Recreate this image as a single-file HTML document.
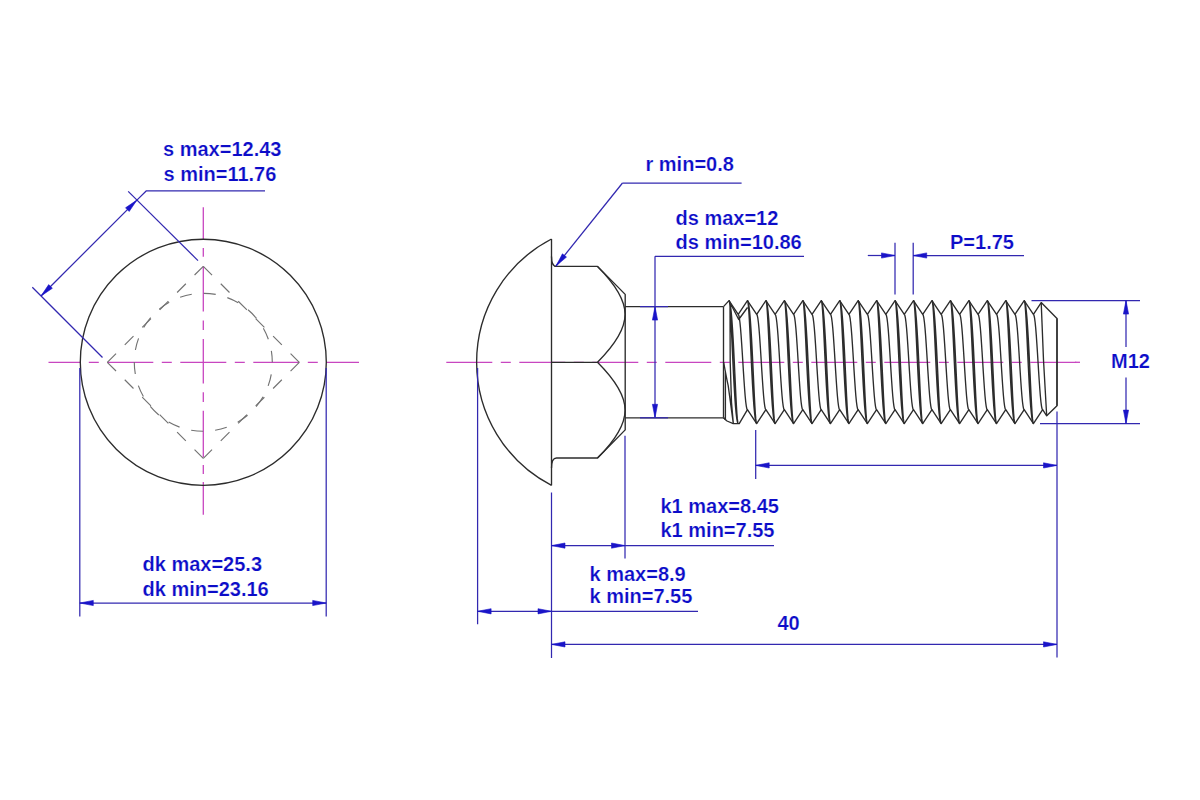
<!DOCTYPE html>
<html><head><meta charset="utf-8"><title>Carriage bolt drawing</title>
<style>
html,body{margin:0;padding:0;background:#fff;}
body{width:1200px;height:800px;overflow:hidden;}
svg{display:block;}
text{font-family:"Liberation Sans",sans-serif;font-weight:bold;font-size:20px;fill:#0c0cc8;stroke:#fff;stroke-width:0.2px;paint-order:fill;}
</style></head><body>
<svg width="1200" height="800" viewBox="0 0 1200 800">
<rect width="1200" height="800" fill="#fff"/>
<path d="M48.5 362.3H80.3M88.8 362.3H98.8M107.3 362.3H153.3M161.8 362.3H171.8M180.3 362.3H226.3M234.8 362.3H244.8M253.3 362.3H299.3M307.8 362.3H317.8M326.3 362.3H359" fill="none" stroke="#c846c0" stroke-width="1.3"/>
<path d="M203.3 207.2V239.5M203.3 248V256.7M203.3 266.2V311.5M203.3 320.4V330M203.3 339V383.6M203.3 392.3V402M203.3 410.8V457M203.3 465V474M203.3 482V514.8" fill="none" stroke="#c846c0" stroke-width="1.3"/>
<circle cx="203.3" cy="362.3" r="123" fill="none" stroke="#2c2c2c" stroke-width="1.35"/>
<line x1="203.3" y1="266.3" x2="107.3" y2="362.3" stroke="#727272" stroke-width="1.15" stroke-dasharray="12.34 12.34"/>
<line x1="107.3" y1="362.3" x2="203.3" y2="458.3" stroke="#727272" stroke-width="1.15" stroke-dasharray="12.34 12.34"/>
<line x1="203.3" y1="458.3" x2="299.3" y2="362.3" stroke="#727272" stroke-width="1.15" stroke-dasharray="12.34 12.34"/>
<line x1="299.3" y1="362.3" x2="203.3" y2="266.3" stroke="#727272" stroke-width="1.15" stroke-dasharray="12.34 12.34"/>
<circle cx="203.3" cy="362.3" r="69" fill="none" stroke="#727272" stroke-width="1.15" stroke-dasharray="12.04 12.04" stroke-dashoffset="12.04"/>
<line x1="32.3" y1="287.3" x2="102.5" y2="357.5" stroke="#3228b0" stroke-width="1.25"/>
<line x1="128.2" y1="191.4" x2="198" y2="260.6" stroke="#3228b0" stroke-width="1.25"/>
<line x1="41" y1="296" x2="136.9" y2="200.1" stroke="#3228b0" stroke-width="1.25"/>
<path d="M41 296 L48.71 284.62 L52.38 288.29 Z" fill="#1a14c8" stroke="#1a14c8" stroke-width="0.6"/>
<path d="M136.9 200.1 L129.19 211.48 L125.52 207.81 Z" fill="#1a14c8" stroke="#1a14c8" stroke-width="0.6"/>
<path d="M136.9 200.1 L146.4 190.8 L265 190.8" fill="none" stroke="#3228b0" stroke-width="1.25" stroke-linejoin="round"/>
<text x="163" y="156" text-anchor="start">s max=12.43</text>
<text x="163.5" y="180.9" text-anchor="start">s min=11.76</text>
<line x1="79.8" y1="368" x2="79.8" y2="616.5" stroke="#3228b0" stroke-width="1.25"/>
<line x1="326.2" y1="368" x2="326.2" y2="616.5" stroke="#3228b0" stroke-width="1.25"/>
<line x1="79.8" y1="603" x2="326.2" y2="603" stroke="#3228b0" stroke-width="1.25"/>
<path d="M79.8 603 L93.3 600.4 L93.3 605.6 Z" fill="#1a14c8" stroke="#1a14c8" stroke-width="0.6"/>
<path d="M326.2 603 L312.7 605.6 L312.7 600.4 Z" fill="#1a14c8" stroke="#1a14c8" stroke-width="0.6"/>
<text x="142.5" y="570.9" text-anchor="start">dk max=25.3</text>
<text x="142.5" y="595.9" text-anchor="start">dk min=23.16</text>
<path d="M446.3 362.3H492.3M500.8 362.3H510.8M519.3 362.3H565.3M573.8 362.3H583.8M592.3 362.3H638.3M646.8 362.3H656.8M665.3 362.3H711.3M719.8 362.3H729.8M738.3 362.3H784.3M792.8 362.3H802.8M811.3 362.3H857.3M865.8 362.3H875.8M884.3 362.3H930.3M938.8 362.3H948.8M957.3 362.3H1003.3M1011.8 362.3H1021.8M1030.3 362.3H1076.3" fill="none" stroke="#c846c0" stroke-width="1.3"/>
<line x1="1075" y1="362.3" x2="1080" y2="362.3" stroke="#c846c0" stroke-width="1.3"/>
<path d="M551.5 239 A138.8 138.8 0 0 0 551.5 485.4" fill="none" stroke="#2c2c2c" stroke-width="1.35" stroke-linejoin="round"/>
<line x1="551.5" y1="239" x2="551.5" y2="485.4" stroke="#2c2c2c" stroke-width="1.35"/>
<path d="M551.5 256.4 Q551.5 266.4 556.5 266.4 L597.5 266.4 L625.2 294.4 L625.2 429.9 L597.5 458 L556.5 458 Q551.5 458 551.5 468" fill="none" stroke="#2c2c2c" stroke-width="1.35" stroke-linejoin="round"/>
<path d="M597.5 266.4 C634.3 303.2 634.3 325.5 597.5 362.3 C634.3 399.1 634.3 421.2 597.5 458" fill="none" stroke="#2c2c2c" stroke-width="1.35" stroke-linejoin="round"/>
<line x1="551.5" y1="362.3" x2="597.5" y2="362.3" stroke="#2c2c2c" stroke-width="1.35"/>
<line x1="625.2" y1="306.6" x2="723.5" y2="306.6" stroke="#2c2c2c" stroke-width="1.35"/>
<line x1="625.2" y1="417.8" x2="723.5" y2="417.8" stroke="#2c2c2c" stroke-width="1.35"/>
<line x1="723.5" y1="306.6" x2="723.5" y2="417.8" stroke="#2c2c2c" stroke-width="1.35"/>
<path d="M723.5 306.6 L729 300.6 L738.23 314.3 L747.45 300.6 L756.68 314.3 L765.9 300.6 L775.12 314.3 L784.35 300.6 L793.58 314.3 L802.8 300.6 L812.02 314.3 L821.25 300.6 L830.48 314.3 L839.7 300.6 L848.93 314.3 L858.15 300.6 L867.38 314.3 L876.6 300.6 L885.83 314.3 L895.05 300.6 L904.27 314.3 L913.5 300.6 L922.73 314.3 L931.95 300.6 L941.18 314.3 L950.4 300.6 L959.62 314.3 L968.85 300.6 L978.08 314.3 L987.3 300.6 L996.52 314.3 L1005.75 300.6 L1014.98 314.3 L1024.2 300.6 L1033.42 314.3 L1041.2 302.6 L1057 318.5 L1057 405.7 L1046.7 415.8 L1042.65 409.6 L1033.42 423.6 L1024.2 409.6 L1014.98 423.6 L1005.75 409.6 L996.52 423.6 L987.3 409.6 L978.08 423.6 L968.85 409.6 L959.62 423.6 L950.4 409.6 L941.18 423.6 L931.95 409.6 L922.73 423.6 L913.5 409.6 L904.27 423.6 L895.05 409.6 L885.83 423.6 L876.6 409.6 L867.38 423.6 L858.15 409.6 L848.93 423.6 L839.7 409.6 L830.48 423.6 L821.25 409.6 L812.02 423.6 L802.8 409.6 L793.58 423.6 L784.35 409.6 L775.12 423.6 L765.9 409.6 L756.68 423.6 L747.45 409.6 L739.23 423.6 L733.23 423.6 L727 421 L723.5 417.8" fill="none" stroke="#2c2c2c" stroke-width="1.35" stroke-linejoin="round"/>
<path d="M729 300.6 L729.71 301.78 L730.42 305.28 L731.12 310.96 L731.8 318.61 L732.46 327.93 L733.11 338.56 L733.72 350.1 L734.31 362.1 L734.88 374.1 L735.41 385.64 L735.92 396.27 L736.41 405.59 L736.88 413.24 L737.34 418.92 L737.79 422.42 L738.23 423.6M729 300.6 L729.44 301.78 L729.89 305.28 L730.34 310.96 L730.81 318.61 L731.3 327.93 L731.81 338.56 L732.35 350.1 L732.91 362.1 L733.5 374.1 L734.12 385.64 L734.76 396.27 L735.42 405.59 L736.11 413.24 L736.8 418.92 L737.51 422.42 L738.23 423.6M738.23 314.45 L738.8 315.37 L739.38 318.08 L739.95 322.48 L740.53 328.41 L741.11 335.63 L741.68 343.87 L742.26 352.8 L742.84 362.1 L743.41 371.4 L743.99 380.33 L744.57 388.57 L745.14 395.79 L745.72 401.72 L746.3 406.12 L746.87 408.83 L747.45 409.75M747.45 300.6 L748.16 301.78 L748.87 305.28 L749.57 310.96 L750.25 318.61 L750.91 327.93 L751.56 338.56 L752.17 350.1 L752.76 362.1 L753.33 374.1 L753.86 385.64 L754.37 396.27 L754.86 405.59 L755.33 413.24 L755.79 418.92 L756.24 422.42 L756.68 423.6M747.45 300.6 L747.89 301.78 L748.34 305.28 L748.79 310.96 L749.26 318.61 L749.75 327.93 L750.26 338.56 L750.8 350.1 L751.36 362.1 L751.95 374.1 L752.57 385.64 L753.21 396.27 L753.87 405.59 L754.56 413.24 L755.25 418.92 L755.96 422.42 L756.68 423.6M756.68 314.45 L757.25 315.37 L757.83 318.08 L758.4 322.48 L758.98 328.41 L759.56 335.63 L760.13 343.87 L760.71 352.8 L761.29 362.1 L761.86 371.4 L762.44 380.33 L763.02 388.57 L763.59 395.79 L764.17 401.72 L764.75 406.12 L765.32 408.83 L765.9 409.75M765.9 300.6 L766.61 301.78 L767.32 305.28 L768.02 310.96 L768.7 318.61 L769.36 327.93 L770.01 338.56 L770.62 350.1 L771.21 362.1 L771.78 374.1 L772.31 385.64 L772.82 396.27 L773.31 405.59 L773.78 413.24 L774.24 418.92 L774.69 422.42 L775.12 423.6M765.9 300.6 L766.34 301.78 L766.79 305.28 L767.24 310.96 L767.71 318.61 L768.2 327.93 L768.71 338.56 L769.25 350.1 L769.81 362.1 L770.4 374.1 L771.02 385.64 L771.66 396.27 L772.32 405.59 L773.01 413.24 L773.7 418.92 L774.41 422.42 L775.12 423.6M775.12 314.45 L775.7 315.37 L776.28 318.08 L776.85 322.48 L777.43 328.41 L778.01 335.63 L778.58 343.87 L779.16 352.8 L779.74 362.1 L780.31 371.4 L780.89 380.33 L781.47 388.57 L782.04 395.79 L782.62 401.72 L783.2 406.12 L783.77 408.83 L784.35 409.75M784.35 300.6 L785.06 301.78 L785.77 305.28 L786.47 310.96 L787.15 318.61 L787.81 327.93 L788.46 338.56 L789.07 350.1 L789.66 362.1 L790.23 374.1 L790.76 385.64 L791.27 396.27 L791.76 405.59 L792.23 413.24 L792.69 418.92 L793.14 422.42 L793.58 423.6M784.35 300.6 L784.79 301.78 L785.24 305.28 L785.69 310.96 L786.16 318.61 L786.65 327.93 L787.16 338.56 L787.7 350.1 L788.26 362.1 L788.85 374.1 L789.47 385.64 L790.11 396.27 L790.77 405.59 L791.46 413.24 L792.15 418.92 L792.86 422.42 L793.58 423.6M793.58 314.45 L794.15 315.37 L794.73 318.08 L795.3 322.48 L795.88 328.41 L796.46 335.63 L797.03 343.87 L797.61 352.8 L798.19 362.1 L798.76 371.4 L799.34 380.33 L799.92 388.57 L800.49 395.79 L801.07 401.72 L801.65 406.12 L802.22 408.83 L802.8 409.75M802.8 300.6 L803.51 301.78 L804.22 305.28 L804.92 310.96 L805.6 318.61 L806.26 327.93 L806.91 338.56 L807.52 350.1 L808.11 362.1 L808.68 374.1 L809.21 385.64 L809.72 396.27 L810.21 405.59 L810.68 413.24 L811.14 418.92 L811.59 422.42 L812.02 423.6M802.8 300.6 L803.24 301.78 L803.69 305.28 L804.14 310.96 L804.61 318.61 L805.1 327.93 L805.61 338.56 L806.15 350.1 L806.71 362.1 L807.3 374.1 L807.92 385.64 L808.56 396.27 L809.22 405.59 L809.91 413.24 L810.6 418.92 L811.31 422.42 L812.02 423.6M812.02 314.45 L812.6 315.37 L813.18 318.08 L813.75 322.48 L814.33 328.41 L814.91 335.63 L815.48 343.87 L816.06 352.8 L816.64 362.1 L817.21 371.4 L817.79 380.33 L818.37 388.57 L818.94 395.79 L819.52 401.72 L820.1 406.12 L820.67 408.83 L821.25 409.75M821.25 300.6 L821.96 301.78 L822.67 305.28 L823.37 310.96 L824.05 318.61 L824.71 327.93 L825.36 338.56 L825.97 350.1 L826.56 362.1 L827.13 374.1 L827.66 385.64 L828.17 396.27 L828.66 405.59 L829.13 413.24 L829.59 418.92 L830.04 422.42 L830.48 423.6M821.25 300.6 L821.69 301.78 L822.14 305.28 L822.59 310.96 L823.06 318.61 L823.55 327.93 L824.06 338.56 L824.6 350.1 L825.16 362.1 L825.75 374.1 L826.37 385.64 L827.01 396.27 L827.67 405.59 L828.36 413.24 L829.05 418.92 L829.76 422.42 L830.48 423.6M830.48 314.45 L831.05 315.37 L831.63 318.08 L832.2 322.48 L832.78 328.41 L833.36 335.63 L833.93 343.87 L834.51 352.8 L835.09 362.1 L835.66 371.4 L836.24 380.33 L836.82 388.57 L837.39 395.79 L837.97 401.72 L838.55 406.12 L839.12 408.83 L839.7 409.75M839.7 300.6 L840.41 301.78 L841.12 305.28 L841.82 310.96 L842.5 318.61 L843.16 327.93 L843.81 338.56 L844.42 350.1 L845.01 362.1 L845.58 374.1 L846.11 385.64 L846.62 396.27 L847.11 405.59 L847.58 413.24 L848.04 418.92 L848.49 422.42 L848.93 423.6M839.7 300.6 L840.14 301.78 L840.59 305.28 L841.04 310.96 L841.51 318.61 L842 327.93 L842.51 338.56 L843.05 350.1 L843.61 362.1 L844.2 374.1 L844.82 385.64 L845.46 396.27 L846.12 405.59 L846.81 413.24 L847.5 418.92 L848.21 422.42 L848.93 423.6M848.93 314.45 L849.5 315.37 L850.08 318.08 L850.65 322.48 L851.23 328.41 L851.81 335.63 L852.38 343.87 L852.96 352.8 L853.54 362.1 L854.11 371.4 L854.69 380.33 L855.27 388.57 L855.84 395.79 L856.42 401.72 L857 406.12 L857.57 408.83 L858.15 409.75M858.15 300.6 L858.86 301.78 L859.57 305.28 L860.27 310.96 L860.95 318.61 L861.61 327.93 L862.26 338.56 L862.87 350.1 L863.46 362.1 L864.03 374.1 L864.56 385.64 L865.07 396.27 L865.56 405.59 L866.03 413.24 L866.49 418.92 L866.94 422.42 L867.38 423.6M858.15 300.6 L858.59 301.78 L859.04 305.28 L859.49 310.96 L859.96 318.61 L860.45 327.93 L860.96 338.56 L861.5 350.1 L862.06 362.1 L862.65 374.1 L863.27 385.64 L863.91 396.27 L864.57 405.59 L865.26 413.24 L865.95 418.92 L866.66 422.42 L867.38 423.6M867.38 314.45 L867.95 315.37 L868.53 318.08 L869.1 322.48 L869.68 328.41 L870.26 335.63 L870.83 343.87 L871.41 352.8 L871.99 362.1 L872.56 371.4 L873.14 380.33 L873.72 388.57 L874.29 395.79 L874.87 401.72 L875.45 406.12 L876.02 408.83 L876.6 409.75M876.6 300.6 L877.31 301.78 L878.02 305.28 L878.72 310.96 L879.4 318.61 L880.06 327.93 L880.71 338.56 L881.32 350.1 L881.91 362.1 L882.48 374.1 L883.01 385.64 L883.52 396.27 L884.01 405.59 L884.48 413.24 L884.94 418.92 L885.39 422.42 L885.83 423.6M876.6 300.6 L877.04 301.78 L877.49 305.28 L877.94 310.96 L878.41 318.61 L878.9 327.93 L879.41 338.56 L879.95 350.1 L880.51 362.1 L881.1 374.1 L881.72 385.64 L882.36 396.27 L883.02 405.59 L883.71 413.24 L884.4 418.92 L885.11 422.42 L885.83 423.6M885.83 314.45 L886.4 315.37 L886.98 318.08 L887.55 322.48 L888.13 328.41 L888.71 335.63 L889.28 343.87 L889.86 352.8 L890.44 362.1 L891.01 371.4 L891.59 380.33 L892.17 388.57 L892.74 395.79 L893.32 401.72 L893.9 406.12 L894.47 408.83 L895.05 409.75M895.05 300.6 L895.76 301.78 L896.47 305.28 L897.17 310.96 L897.85 318.61 L898.51 327.93 L899.16 338.56 L899.77 350.1 L900.36 362.1 L900.93 374.1 L901.46 385.64 L901.97 396.27 L902.46 405.59 L902.93 413.24 L903.39 418.92 L903.84 422.42 L904.27 423.6M895.05 300.6 L895.49 301.78 L895.94 305.28 L896.39 310.96 L896.86 318.61 L897.35 327.93 L897.86 338.56 L898.4 350.1 L898.96 362.1 L899.55 374.1 L900.17 385.64 L900.81 396.27 L901.47 405.59 L902.16 413.24 L902.85 418.92 L903.56 422.42 L904.27 423.6M904.27 314.45 L904.85 315.37 L905.43 318.08 L906 322.48 L906.58 328.41 L907.16 335.63 L907.73 343.87 L908.31 352.8 L908.89 362.1 L909.46 371.4 L910.04 380.33 L910.62 388.57 L911.19 395.79 L911.77 401.72 L912.35 406.12 L912.92 408.83 L913.5 409.75M913.5 300.6 L914.21 301.78 L914.92 305.28 L915.62 310.96 L916.3 318.61 L916.96 327.93 L917.61 338.56 L918.22 350.1 L918.81 362.1 L919.38 374.1 L919.91 385.64 L920.42 396.27 L920.91 405.59 L921.38 413.24 L921.84 418.92 L922.29 422.42 L922.73 423.6M913.5 300.6 L913.94 301.78 L914.39 305.28 L914.84 310.96 L915.31 318.61 L915.8 327.93 L916.31 338.56 L916.85 350.1 L917.41 362.1 L918 374.1 L918.62 385.64 L919.26 396.27 L919.92 405.59 L920.61 413.24 L921.3 418.92 L922.01 422.42 L922.73 423.6M922.73 314.45 L923.3 315.37 L923.88 318.08 L924.45 322.48 L925.03 328.41 L925.61 335.63 L926.18 343.87 L926.76 352.8 L927.34 362.1 L927.91 371.4 L928.49 380.33 L929.07 388.57 L929.64 395.79 L930.22 401.72 L930.8 406.12 L931.37 408.83 L931.95 409.75M931.95 300.6 L932.66 301.78 L933.37 305.28 L934.07 310.96 L934.75 318.61 L935.41 327.93 L936.06 338.56 L936.67 350.1 L937.26 362.1 L937.83 374.1 L938.36 385.64 L938.87 396.27 L939.36 405.59 L939.83 413.24 L940.29 418.92 L940.74 422.42 L941.18 423.6M931.95 300.6 L932.39 301.78 L932.84 305.28 L933.29 310.96 L933.76 318.61 L934.25 327.93 L934.76 338.56 L935.3 350.1 L935.86 362.1 L936.45 374.1 L937.07 385.64 L937.71 396.27 L938.37 405.59 L939.06 413.24 L939.75 418.92 L940.46 422.42 L941.18 423.6M941.18 314.45 L941.75 315.37 L942.33 318.08 L942.9 322.48 L943.48 328.41 L944.06 335.63 L944.63 343.87 L945.21 352.8 L945.79 362.1 L946.36 371.4 L946.94 380.33 L947.52 388.57 L948.09 395.79 L948.67 401.72 L949.25 406.12 L949.82 408.83 L950.4 409.75M950.4 300.6 L951.11 301.78 L951.82 305.28 L952.52 310.96 L953.2 318.61 L953.86 327.93 L954.51 338.56 L955.12 350.1 L955.71 362.1 L956.28 374.1 L956.81 385.64 L957.32 396.27 L957.81 405.59 L958.28 413.24 L958.74 418.92 L959.19 422.42 L959.62 423.6M950.4 300.6 L950.84 301.78 L951.29 305.28 L951.74 310.96 L952.21 318.61 L952.7 327.93 L953.21 338.56 L953.75 350.1 L954.31 362.1 L954.9 374.1 L955.52 385.64 L956.16 396.27 L956.82 405.59 L957.51 413.24 L958.2 418.92 L958.91 422.42 L959.62 423.6M959.62 314.45 L960.2 315.37 L960.78 318.08 L961.35 322.48 L961.93 328.41 L962.51 335.63 L963.08 343.87 L963.66 352.8 L964.24 362.1 L964.81 371.4 L965.39 380.33 L965.97 388.57 L966.54 395.79 L967.12 401.72 L967.7 406.12 L968.27 408.83 L968.85 409.75M968.85 300.6 L969.56 301.78 L970.27 305.28 L970.97 310.96 L971.65 318.61 L972.31 327.93 L972.96 338.56 L973.57 350.1 L974.16 362.1 L974.73 374.1 L975.26 385.64 L975.77 396.27 L976.26 405.59 L976.73 413.24 L977.19 418.92 L977.64 422.42 L978.08 423.6M968.85 300.6 L969.29 301.78 L969.74 305.28 L970.19 310.96 L970.66 318.61 L971.15 327.93 L971.66 338.56 L972.2 350.1 L972.76 362.1 L973.35 374.1 L973.97 385.64 L974.61 396.27 L975.27 405.59 L975.96 413.24 L976.65 418.92 L977.36 422.42 L978.08 423.6M978.08 314.45 L978.65 315.37 L979.23 318.08 L979.8 322.48 L980.38 328.41 L980.96 335.63 L981.53 343.87 L982.11 352.8 L982.69 362.1 L983.26 371.4 L983.84 380.33 L984.42 388.57 L984.99 395.79 L985.57 401.72 L986.15 406.12 L986.72 408.83 L987.3 409.75M987.3 300.6 L988.01 301.78 L988.72 305.28 L989.42 310.96 L990.1 318.61 L990.76 327.93 L991.41 338.56 L992.02 350.1 L992.61 362.1 L993.18 374.1 L993.71 385.64 L994.22 396.27 L994.71 405.59 L995.18 413.24 L995.64 418.92 L996.09 422.42 L996.52 423.6M987.3 300.6 L987.74 301.78 L988.19 305.28 L988.64 310.96 L989.11 318.61 L989.6 327.93 L990.11 338.56 L990.65 350.1 L991.21 362.1 L991.8 374.1 L992.42 385.64 L993.06 396.27 L993.72 405.59 L994.41 413.24 L995.1 418.92 L995.81 422.42 L996.52 423.6M996.52 314.45 L997.1 315.37 L997.68 318.08 L998.25 322.48 L998.83 328.41 L999.41 335.63 L999.98 343.87 L1000.56 352.8 L1001.14 362.1 L1001.71 371.4 L1002.29 380.33 L1002.87 388.57 L1003.44 395.79 L1004.02 401.72 L1004.6 406.12 L1005.17 408.83 L1005.75 409.75M1005.75 300.6 L1006.46 301.78 L1007.17 305.28 L1007.87 310.96 L1008.55 318.61 L1009.21 327.93 L1009.86 338.56 L1010.47 350.1 L1011.06 362.1 L1011.63 374.1 L1012.16 385.64 L1012.67 396.27 L1013.16 405.59 L1013.63 413.24 L1014.09 418.92 L1014.54 422.42 L1014.98 423.6M1005.75 300.6 L1006.19 301.78 L1006.64 305.28 L1007.09 310.96 L1007.56 318.61 L1008.05 327.93 L1008.56 338.56 L1009.1 350.1 L1009.66 362.1 L1010.25 374.1 L1010.87 385.64 L1011.51 396.27 L1012.17 405.59 L1012.86 413.24 L1013.55 418.92 L1014.26 422.42 L1014.98 423.6M1014.98 314.45 L1015.55 315.37 L1016.13 318.08 L1016.7 322.48 L1017.28 328.41 L1017.86 335.63 L1018.43 343.87 L1019.01 352.8 L1019.59 362.1 L1020.16 371.4 L1020.74 380.33 L1021.32 388.57 L1021.89 395.79 L1022.47 401.72 L1023.05 406.12 L1023.62 408.83 L1024.2 409.75M1024.2 300.6 L1024.91 301.78 L1025.62 305.28 L1026.32 310.96 L1027 318.61 L1027.66 327.93 L1028.31 338.56 L1028.92 350.1 L1029.51 362.1 L1030.08 374.1 L1030.61 385.64 L1031.12 396.27 L1031.61 405.59 L1032.08 413.24 L1032.54 418.92 L1032.99 422.42 L1033.42 423.6M1024.2 300.6 L1024.64 301.78 L1025.09 305.28 L1025.54 310.96 L1026.01 318.61 L1026.5 327.93 L1027.01 338.56 L1027.55 350.1 L1028.11 362.1 L1028.7 374.1 L1029.32 385.64 L1029.96 396.27 L1030.62 405.59 L1031.31 413.24 L1032 418.92 L1032.71 422.42 L1033.42 423.6M1033.42 314.45 L1034 315.37 L1034.58 318.08 L1035.15 322.48 L1035.73 328.41 L1036.31 335.63 L1036.88 343.87 L1037.46 352.8 L1038.04 362.1 L1038.61 371.4 L1039.19 380.33 L1039.77 388.57 L1040.34 395.79 L1040.92 401.72 L1041.5 406.12 L1042.07 408.83 L1042.65 409.75M1041.2 302.6 L1043.5 360 L1046.7 415.8M730.5 303.5 L738.7 319.5 L747.5 307.5M723.6 362 Q726.5 378 728.2 385.6 L733.3 423.4M725.4 372 L725.4 419.5 L723.5 417.8M730 302 L730.2 362 L731.5 402.5 L733.3 423.4" fill="none" stroke="#2c2c2c" stroke-width="1.35" stroke-linejoin="round"/>
<line x1="1057" y1="318.5" x2="1057" y2="405.7" stroke="#2c2c2c" stroke-width="1.35"/>
<line x1="556" y1="266" x2="622.5" y2="183" stroke="#3228b0" stroke-width="1.25"/>
<path d="M556 266 L562.41 253.84 L566.47 257.09 Z" fill="#1a14c8" stroke="#1a14c8" stroke-width="0.6"/>
<line x1="622.5" y1="183" x2="741.6" y2="183" stroke="#3228b0" stroke-width="1.25"/>
<text x="645.5" y="170.9" text-anchor="start">r min=0.8</text>
<line x1="655" y1="256.3" x2="804" y2="256.3" stroke="#3228b0" stroke-width="1.25"/>
<line x1="655" y1="256.3" x2="655" y2="417.8" stroke="#3228b0" stroke-width="1.25"/>
<path d="M655 306.6 L657.6 320.1 L652.4 320.1 Z" fill="#1a14c8" stroke="#1a14c8" stroke-width="0.6"/>
<path d="M655 417.8 L652.4 404.3 L657.6 404.3 Z" fill="#1a14c8" stroke="#1a14c8" stroke-width="0.6"/>
<line x1="640" y1="306.6" x2="668" y2="306.6" stroke="#3228b0" stroke-width="1.25"/>
<line x1="640" y1="417.8" x2="668" y2="417.8" stroke="#3228b0" stroke-width="1.25"/>
<text x="675.5" y="224.9" text-anchor="start">ds max=12</text>
<text x="675.5" y="248.9" text-anchor="start">ds min=10.86</text>
<line x1="895" y1="242.7" x2="895" y2="294.4" stroke="#3228b0" stroke-width="1.25"/>
<line x1="913.2" y1="242.7" x2="913.2" y2="294.4" stroke="#3228b0" stroke-width="1.25"/>
<line x1="867.8" y1="255.5" x2="895" y2="255.5" stroke="#3228b0" stroke-width="1.25"/>
<path d="M895 255.5 L881.5 258.1 L881.5 252.9 Z" fill="#1a14c8" stroke="#1a14c8" stroke-width="0.6"/>
<line x1="913.2" y1="255.5" x2="1024" y2="255.5" stroke="#3228b0" stroke-width="1.25"/>
<path d="M913.2 255.5 L926.7 252.9 L926.7 258.1 Z" fill="#1a14c8" stroke="#1a14c8" stroke-width="0.6"/>
<text x="950" y="249" text-anchor="start">P=1.75</text>
<line x1="1031.5" y1="300.6" x2="1140" y2="300.6" stroke="#3228b0" stroke-width="1.25"/>
<line x1="1040" y1="423.6" x2="1140" y2="423.6" stroke="#3228b0" stroke-width="1.25"/>
<line x1="1126" y1="300.6" x2="1126" y2="347" stroke="#3228b0" stroke-width="1.25"/>
<line x1="1126" y1="377.5" x2="1126" y2="423.6" stroke="#3228b0" stroke-width="1.25"/>
<path d="M1126 300.6 L1128.6 314.1 L1123.4 314.1 Z" fill="#1a14c8" stroke="#1a14c8" stroke-width="0.6"/>
<path d="M1126 423.6 L1123.4 410.1 L1128.6 410.1 Z" fill="#1a14c8" stroke="#1a14c8" stroke-width="0.6"/>
<text x="1111" y="368.4" text-anchor="start">M12</text>
<line x1="755.7" y1="430" x2="755.7" y2="479" stroke="#3228b0" stroke-width="1.25"/>
<line x1="1057" y1="411.5" x2="1057" y2="657.5" stroke="#3228b0" stroke-width="1.25"/>
<line x1="755.7" y1="465.4" x2="1057" y2="465.4" stroke="#3228b0" stroke-width="1.25"/>
<path d="M755.7 465.4 L769.2 462.8 L769.2 468 Z" fill="#1a14c8" stroke="#1a14c8" stroke-width="0.6"/>
<path d="M1057 465.4 L1043.5 468 L1043.5 462.8 Z" fill="#1a14c8" stroke="#1a14c8" stroke-width="0.6"/>
<line x1="625" y1="435.8" x2="625" y2="558.4" stroke="#3228b0" stroke-width="1.25"/>
<line x1="551.5" y1="492.5" x2="551.5" y2="658" stroke="#3228b0" stroke-width="1.25"/>
<line x1="551.5" y1="545.6" x2="774" y2="545.6" stroke="#3228b0" stroke-width="1.25"/>
<path d="M551.5 545.6 L565 543 L565 548.2 Z" fill="#1a14c8" stroke="#1a14c8" stroke-width="0.6"/>
<path d="M625 545.6 L611.5 548.2 L611.5 543 Z" fill="#1a14c8" stroke="#1a14c8" stroke-width="0.6"/>
<text x="660.5" y="513.3" text-anchor="start">k1 max=8.45</text>
<text x="660.5" y="537.3" text-anchor="start">k1 min=7.55</text>
<line x1="477.6" y1="368" x2="477.6" y2="624.2" stroke="#3228b0" stroke-width="1.25"/>
<line x1="477.6" y1="611.3" x2="698" y2="611.3" stroke="#3228b0" stroke-width="1.25"/>
<path d="M477.6 611.3 L491.1 608.7 L491.1 613.9 Z" fill="#1a14c8" stroke="#1a14c8" stroke-width="0.6"/>
<path d="M551.5 611.3 L538 613.9 L538 608.7 Z" fill="#1a14c8" stroke="#1a14c8" stroke-width="0.6"/>
<text x="589.5" y="581.1" text-anchor="start">k max=8.9</text>
<text x="589.5" y="603.1" text-anchor="start">k min=7.55</text>
<line x1="551.5" y1="644.4" x2="1057" y2="644.4" stroke="#3228b0" stroke-width="1.25"/>
<path d="M551.5 644.4 L565 641.8 L565 647 Z" fill="#1a14c8" stroke="#1a14c8" stroke-width="0.6"/>
<path d="M1057 644.4 L1043.5 647 L1043.5 641.8 Z" fill="#1a14c8" stroke="#1a14c8" stroke-width="0.6"/>
<text x="777.5" y="629.5" text-anchor="start">40</text>
</svg>
</body></html>
